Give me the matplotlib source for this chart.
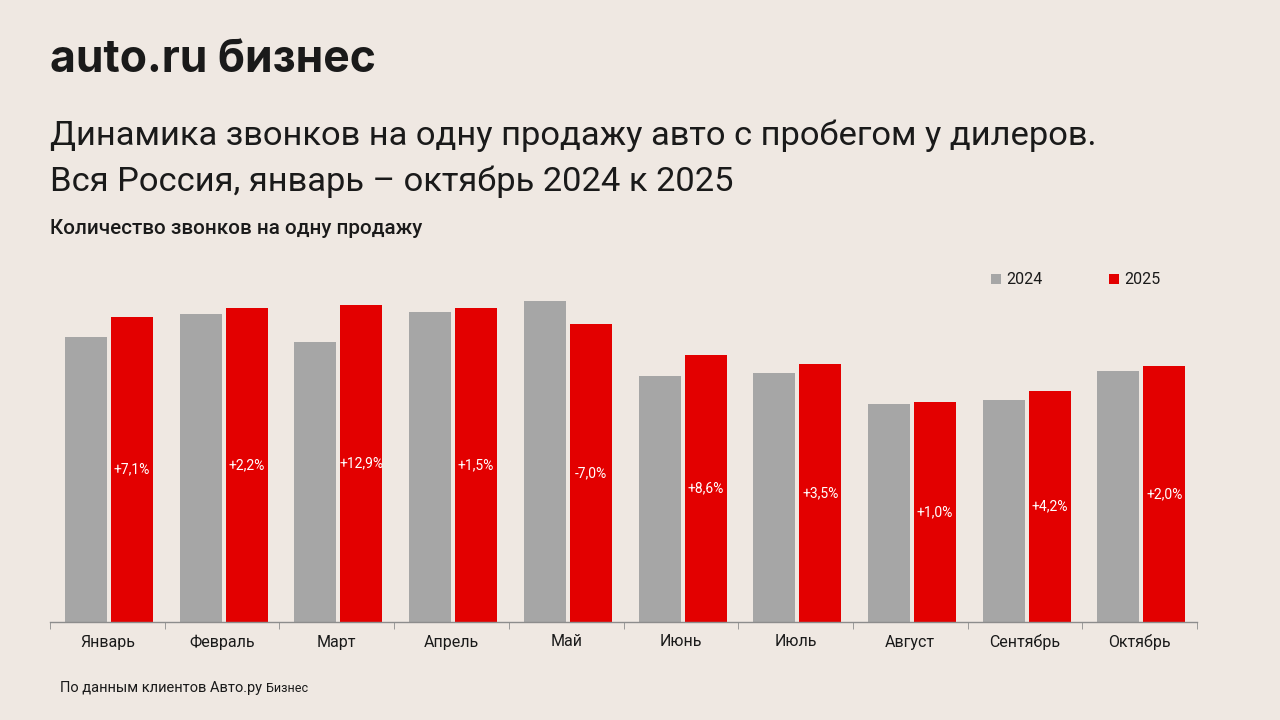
import numpy as np
import matplotlib.pyplot as plt

months = ['Январь', 'Февраль', 'Март', 'Апрель', 'Май',
          'Июнь', 'Июль', 'Август', 'Сентябрь', 'Октябрь']
# bar heights (no value axis in the source, relative units)
calls_2024 = [28.5, 30.8, 28.0, 31.0, 32.1, 24.6, 24.9, 21.8, 22.2, 25.1]
calls_2025 = [30.5, 31.4, 31.7, 31.4, 29.8, 26.7, 25.8, 22.0, 23.1, 25.6]
change_labels = ['+7,1%', '+2,2%', '+12,9%', '+1,5%', '-7,0%',
                 '+8,6%', '+3,5%', '+1,0%', '+4,2%', '+2,0%']

bg = '#efe8e2'
grey = '#a6a6a6'
red = '#e30000'
dark = '#1a1a1a'

plt.rcParams['font.family'] = ['Roboto', 'DejaVu Sans']

fig = plt.figure(figsize=(12.8, 7.2), dpi=100, facecolor=bg)
# axes: baseline at y=622px, top at 280px, x from 50 to 1197px
ax = fig.add_axes([50 / 1280, 98 / 720, 1147 / 1280, 342 / 720])
ax.set_facecolor(bg)

x = np.arange(len(months))
w = 0.366
ax.bar(x - 0.186, calls_2024, width=w, color=grey, label='2024')
ax.bar(x + 0.215, calls_2025, width=w, color=red, label='2025')

for xi, v, lab in zip(x, calls_2025, change_labels):
    ax.text(xi + 0.215, v / 2, lab, ha='center', va='center',
            color='white', fontsize=10)

ax.set_xlim(-0.5, len(months) - 0.5)
ax.set_ylim(0, 34.2)
ax.set_yticks([])
for s in ['top', 'right', 'left']:
    ax.spines[s].set_visible(False)
ax.spines['bottom'].set_color('#8c8c8c')
ax.spines['bottom'].set_linewidth(1)

ax.set_xticks(x)
ax.set_xticklabels(months, fontsize=11.5, color=dark)
ax.tick_params(axis='x', length=0, pad=9)
ax.set_xticks(np.arange(len(months) + 1) - 0.5, minor=True)
ax.tick_params(axis='x', which='minor', length=5, color='#8c8c8c', direction='out')

handles, labels = ax.get_legend_handles_labels()
leg = fig.legend(handles, labels, loc='center left',
                 bbox_to_anchor=(991 / 1280, 1 - 280 / 720),
                 bbox_transform=fig.transFigure,
                 ncol=2, frameon=False, fontsize=11.5, handlelength=0.65,
                 handleheight=0.65, handletextpad=0.3, columnspacing=4.15,
                 borderpad=0, borderaxespad=0)
for t in leg.get_texts():
    t.set_color(dark)

fig.text(50 / 1280, 1 - 60 / 720, 'auto.ru бизнес', fontsize=32, fontweight='bold',
         family=['Inter', 'DejaVu Sans'], color=dark, va='center', ha='left')
fig.text(50 / 1280, 1 - 136 / 720,
         'Динамика звонков на одну продажу авто с пробегом у дилеров.',
         fontsize=24.8, color=dark, va='center', ha='left')
fig.text(50 / 1280, 1 - 182 / 720, 'Вся Россия, январь – октябрь 2024 к 2025',
         fontsize=24.8, color=dark, va='center', ha='left')
fig.text(50 / 1280, 1 - 229 / 720, 'Количество звонков на одну продажу',
         fontsize=14.9, fontweight='medium', color=dark, va='center', ha='left')

foot = fig.text(60 / 1280, 1 - 688 / 720, 'По данным клиентов Авто.ру ',
                fontsize=10.5, color=dark, va='center', ha='left')
fig.canvas.draw()
bb = foot.get_window_extent()
fig.text(bb.x1 / 1280, 1 - 688 / 720, 'Бизнес', fontsize=9, color=dark,
         va='center', ha='left')

fig.savefig('out.png', dpi=100, facecolor=bg)
